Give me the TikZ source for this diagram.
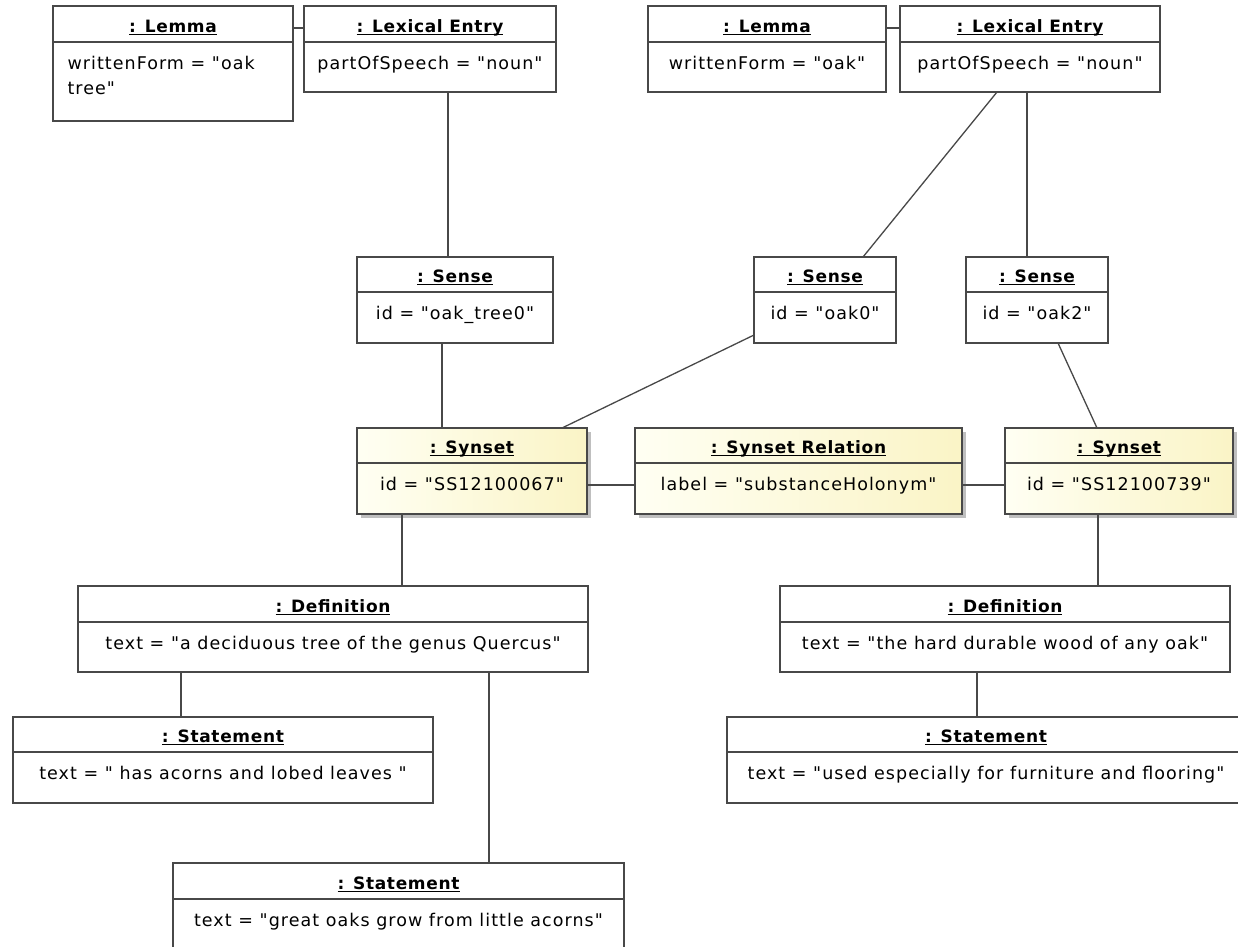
\documentclass[tikz,border=0pt]{standalone}
\usepackage{fontspec}
\setmainfont{DejaVu Sans}[LetterSpace=6, Ligatures=TeXOff]
\newfontfamily\headfont{DejaVu Sans}[LetterSpace=4, Ligatures=TeXOff]
\usetikzlibrary{shadows}

\definecolor{edge}{HTML}{484848}
\definecolor{synlight}{HTML}{FFFFF3}
\definecolor{syndark}{HTML}{FAF4C6}

% underlined object title
\newcommand\headul[1]{\setbox0\hbox{#1}\rlap{\rule[-2.6pt]{\wd0}{1.1pt}}\box0}

\tikzset{
  objframe/.style={draw=edge, line width=1.3pt, fill=white, inner sep=0pt, outer sep=0pt},
  synframe/.style={objframe, left color=synlight, right color=syndark,
    drop shadow={shadow xshift=3.5pt, shadow yshift=-3.5pt, fill=black!45, opacity=0.55}},
  divider/.style={draw=edge, line width=1.3pt},
  conn/.style={draw=edge, line width=1.3pt},
  titletext/.style={inner sep=0pt, anchor=base, font=\headfont\bfseries\fontsize{17}{20}\selectfont},
  bodytext/.style={inner sep=0pt, anchor=base, font=\fontsize{17.5}{25}\selectfont},
}

% [style]{name}{left}{top}{right}{bottom}{header bottom}{class}{attribute}
\newcommand\umlobj[9][objframe]{%
  \node[#1, anchor=north west, minimum width={(#5-#3)*1pt}, minimum height={(#6-#4)*1pt}] (#2) at (#3,#4) {};
  \draw[divider] (#2.west |- 0,#7) -- (#2.east |- 0,#7);
  \node[titletext] at ({(#3+#5)/2},{#7-9.5}) {\headul{: #8}};
  \node[bodytext] at ({(#3+#5)/2},{#7+27}) {#9};
}

\begin{document}
\begin{tikzpicture}[x=1pt,y=-1pt]
\fill[white] (0,0) rectangle (1238,946);
\useasboundingbox (0,0) rectangle (1238,946);

% lexical entries and lemmas
\umlobj{lemA}{53}{6}{293}{121}{42}{Lemma}{\parbox[t]{211pt}{writtenForm = "oak\\tree"}}
\umlobj{lexA}{304}{6}{556}{92}{42}{Lexical Entry}{partOfSpeech = "noun"}
\umlobj{lemB}{648}{6}{886}{92}{42}{Lemma}{writtenForm = "oak"}
\umlobj{lexB}{900}{6}{1160}{92}{42}{Lexical Entry}{partOfSpeech = "noun"}

% senses
\umlobj{senA}{357}{257}{553}{343}{292}{Sense}{id = "oak\_tree0"}
\umlobj{senB}{754}{257}{896}{343}{292}{Sense}{id = "oak0"}
\umlobj{senC}{966}{257}{1108}{343}{292}{Sense}{id = "oak2"}

% synsets
\umlobj[synframe]{synA}{357}{428}{587}{514}{463}{Synset}{id = "SS12100067"}
\umlobj[synframe]{rel}{635}{428}{962}{514}{463}{Synset Relation}{label = "substanceHolonym"}
\umlobj[synframe]{synB}{1005}{428}{1233}{514}{463}{Synset}{id = "SS12100739"}

% definitions and statements
\umlobj{defA}{78}{586}{588}{672}{622}{Definition}{text = "a deciduous tree of the genus Quercus"}
\umlobj{stA}{13}{717}{433}{803}{752}{Statement}{text = " has acorns and lobed leaves "}
\umlobj{stB}{173}{863}{624}{960}{899}{Statement}{text = "great oaks grow from little acorns"}
\umlobj{defB}{780}{586}{1230}{672}{622}{Definition}{text = "the hard durable wood of any oak"}
\umlobj{stC}{727}{717}{1245}{803}{752}{Statement}{text = "used especially for furniture and flooring"}

% links
\draw[conn] (lemA.east |- 0,28) -- (lexA.west |- 0,28);
\draw[conn] (lemB.east |- 0,28) -- (lexB.west |- 0,28);
\draw[conn] (lexA.south -| 448,0) -- (senA.north -| 448,0);
\draw[conn] (lexB.south -| 997,0) -- (senB.north -| 863,0);
\draw[conn] (lexB.south -| 1027,0) -- (senC.north -| 1027,0);
\draw[conn] (senA.south -| 442,0) -- (synA.north -| 442,0);
\draw[conn] (senB.west |- 0,335) -- (synA.north -| 562,0);
\draw[conn] (senC.south -| 1058,0) -- (synB.north -| 1097,0);
\draw[conn] (synA.east |- 0,485) -- (rel.west |- 0,485);
\draw[conn] (rel.east |- 0,485) -- (synB.west |- 0,485);
\draw[conn] (synA.south -| 402,0) -- (defA.north -| 402,0);
\draw[conn] (synB.south -| 1098,0) -- (defB.north -| 1098,0);
\draw[conn] (defA.south -| 181,0) -- (stA.north -| 181,0);
\draw[conn] (defA.south -| 489,0) -- (stB.north -| 489,0);
\draw[conn] (defB.south -| 977,0) -- (stC.north -| 977,0);
\end{tikzpicture}
\end{document}
